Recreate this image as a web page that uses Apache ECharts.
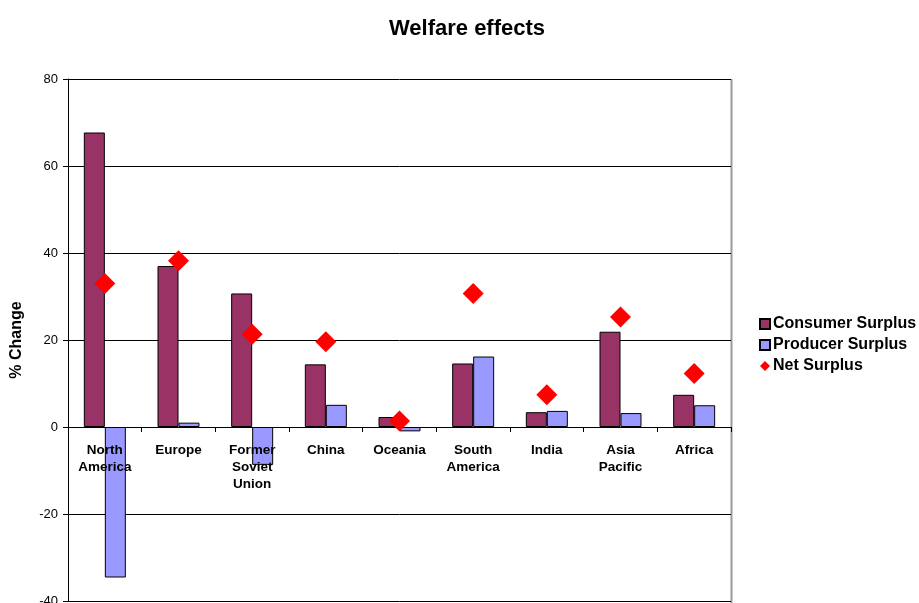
<!DOCTYPE html>
<html>
<head>
<meta charset="utf-8">
<script src="https://cdn.jsdelivr.net/npm/echarts@6/dist/echarts.min.js"></script>
<style>
  html, body { margin: 0; padding: 0; background: #fff; }
  #chart { width: 919px; height: 603px; }
</style>
</head>
<body>
<div id="chart"></div>
<script>
// Regions along the x axis
const regions = ['North\nAmerica', 'Europe', 'Former\nSoviet\nUnion', 'China', 'Oceania',
                 'South\nAmerica', 'India', 'Asia\nPacific', 'Africa'];
// Percent change by region
const consumerSurplus = [67.7, 37.0, 30.7, 14.4, 2.3, 14.6, 3.4, 21.9, 7.4];
const producerSurplus = [-34.6, 1.0, -8.7, 5.1, -1.0, 16.2, 3.7, 3.2, 5.0];
const netSurplus = [33.0, 38.2, 21.3, 19.6, 1.4, 30.7, 7.4, 25.3, 12.3];
// Value axis ticks
const yTicks = [-40, -20, 0, 20, 40, 60, 80];

const font = 'Arial, "Liberation Sans", sans-serif';
const gridTop = 79, gridBottom = 2, plotH = 603 - gridTop - gridBottom;
const yMin = yTicks[0], yMax = yTicks[yTicks.length - 1];
// distance from the plot bottom up to the zero line, for the label row
const zeroOffset = plotH * (0 - yMin) / (yMax - yMin);

const chart = echarts.init(document.getElementById('chart'));
chart.setOption({
  animation: false,
  backgroundColor: '#fff',
  title: {
    text: 'Welfare effects',
    left: 462, textAlign: 'center', top: 13,
    textStyle: { fontFamily: font, fontWeight: 'bold', fontSize: 22, color: '#000' }
  },
  legend: {
    orient: 'vertical',
    left: 754, top: 311,
    itemWidth: 10, itemHeight: 10, itemGap: 5,
    textStyle: { fontFamily: font, fontWeight: 'bold', fontSize: 16, color: '#000', padding: [0, 0, 0, -2] },
    data: [
      { name: 'Consumer Surplus', icon: 'rect' },
      { name: 'Producer Surplus', icon: 'rect' },
      { name: 'Net Surplus', icon: 'diamond' }
    ]
  },
  grid: { left: 68, right: 188, top: gridTop, bottom: gridBottom, containLabel: false, outerBoundsMode: 'none' },
  xAxis: [
    {
      type: 'category',
      data: regions,
      axisLine: { onZero: true, lineStyle: { color: '#000', width: 1 } },
      axisTick: { show: true, length: 5, inside: false, lineStyle: { color: '#000' } },
      axisLabel: { show: false },
      splitLine: { show: false }
    },
    {
      // category names sit just under the zero line, over the bars
      type: 'category',
      data: regions,
      position: 'bottom',
      offset: -zeroOffset,
      z: 10,
      axisLine: { show: false, onZero: false },
      axisTick: { show: false },
      axisLabel: {
        fontFamily: font, fontWeight: 'bold', fontSize: 13.5, color: '#000',
        margin: 15, lineHeight: 17, interval: 0
      },
      splitLine: { show: false }
    }
  ],
  yAxis: {
    type: 'value',
    min: yMin, max: yMax, interval: 20,
    name: '% Change',
    nameLocation: 'middle', nameGap: 43, nameRotate: 90,
    nameTextStyle: { fontFamily: font, fontWeight: 'bold', fontSize: 16, color: '#000' },
    axisLine: { show: true, onZero: false, lineStyle: { color: '#000' } },
    axisTick: { show: true, length: 5, lineStyle: { color: '#000' } },
    axisLabel: { fontFamily: font, fontSize: 13, color: '#000', margin: 10 },
    splitLine: { show: true, lineStyle: { color: '#000', width: 1 } }
  },
  series: [
    {
      name: 'Consumer Surplus', type: 'bar', data: consumerSurplus,
      barGap: '0%', barCategoryGap: '43%',
      itemStyle: { color: '#993366', borderColor: '#000', borderWidth: 1 }
    },
    {
      name: 'Producer Surplus', type: 'bar', data: producerSurplus,
      barGap: '0%', barCategoryGap: '43%',
      itemStyle: { color: '#9999FF', borderColor: '#000', borderWidth: 1 }
    },
    {
      name: 'Net Surplus', type: 'scatter', data: netSurplus,
      symbol: 'diamond', symbolSize: 21,
      itemStyle: { color: '#FF0000', opacity: 1 },
      z: 5
    }
  ],
  graphic: [
    // right edge of the plot frame
    { type: 'line', shape: { x1: 731.5, y1: 79, x2: 731.5, y2: 603 }, style: { stroke: '#999', lineWidth: 2 }, silent: true }
  ]
});
</script>
</body>
</html>
